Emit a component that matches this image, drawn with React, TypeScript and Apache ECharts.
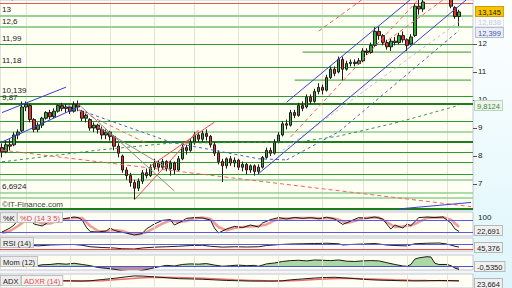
import React, { useEffect, useRef } from 'react';
import * as echarts from 'echarts';

// ---------- data ----------
const SLOTS = 118;
const categories = Array.from({ length: SLOTS }, (_, i) => `${i}`);

// [open, close, low, high]
const ohlc = [
  [8.30, 8.15, 7.95, 8.45], [8.15, 8.40, 8.10, 8.55], [8.40, 8.35, 8.20, 8.60], [8.40, 8.75, 8.35, 8.85],
  [8.75, 8.85, 8.60, 8.95], [8.90, 9.75, 8.85, 9.95], [9.75, 9.85, 9.60, 9.95], [9.80, 9.30, 9.20, 9.85],
  [9.30, 8.95, 8.85, 9.35], [8.95, 9.10, 8.85, 9.20], [9.10, 9.35, 9.00, 9.40], [9.35, 9.55, 9.30, 9.60],
  [9.55, 9.40, 9.30, 9.65], [9.40, 9.60, 9.35, 9.70], [9.60, 9.80, 9.55, 9.85], [9.80, 9.70, 9.60, 9.90],
  [9.70, 9.75, 9.55, 9.85], [9.75, 9.60, 9.50, 9.80], [9.60, 9.85, 9.55, 9.95], [9.85, 9.75, 9.60, 9.98],
  [9.60, 9.35, 9.25, 9.65], [9.35, 9.45, 9.20, 9.50], [9.30, 9.00, 8.90, 9.35], [9.00, 9.10, 8.85, 9.20],
  [9.10, 8.95, 8.80, 9.15], [8.95, 8.75, 8.60, 9.05], [8.75, 8.85, 8.60, 8.95], [8.85, 8.70, 8.55, 8.90],
  [8.70, 8.35, 8.20, 8.75], [8.35, 8.10, 7.95, 8.45], [8.00, 7.50, 7.40, 8.05], [7.50, 7.30, 7.15, 7.60],
  [7.30, 7.05, 6.90, 7.40], [7.05, 6.85, 6.46, 7.15], [6.85, 7.10, 6.75, 7.20], [7.10, 7.40, 7.00, 7.50],
  [7.40, 7.30, 7.20, 7.55], [7.30, 7.60, 7.25, 7.70], [7.60, 7.75, 7.50, 7.90], [7.75, 7.60, 7.45, 7.85],
  [7.60, 7.80, 7.50, 7.90], [7.80, 7.55, 7.45, 7.85], [7.55, 7.75, 7.30, 7.85], [7.75, 7.50, 7.35, 7.80],
  [7.50, 7.90, 7.45, 8.00], [7.90, 8.30, 7.85, 8.40], [8.30, 8.20, 8.05, 8.40], [8.20, 8.50, 8.15, 8.60],
  [8.50, 8.75, 8.40, 8.85], [8.75, 8.60, 8.50, 8.85], [8.60, 8.80, 8.50, 8.90], [8.80, 8.70, 8.55, 8.95],
  [8.70, 8.40, 8.30, 8.75], [8.40, 8.10, 8.00, 8.50], [8.10, 7.80, 7.70, 8.20], [7.80, 7.65, 7.07, 7.90],
  [7.65, 7.90, 7.55, 7.95], [7.90, 7.75, 7.65, 8.00], [7.75, 7.85, 7.60, 7.95], [7.85, 7.60, 7.50, 7.90],
  [7.60, 7.70, 7.45, 7.80], [7.70, 7.50, 7.35, 7.75], [7.50, 7.65, 7.40, 7.70], [7.65, 7.45, 7.30, 7.70],
  [7.45, 7.60, 7.35, 7.70], [7.60, 7.95, 7.55, 8.00], [7.95, 8.20, 7.90, 8.30], [8.20, 8.10, 8.00, 8.30],
  [8.10, 8.50, 8.05, 8.60], [8.50, 8.75, 8.45, 8.85], [8.75, 9.15, 8.70, 9.25], [9.15, 9.10, 8.95, 9.30],
  [9.10, 9.55, 9.05, 9.65], [9.55, 9.45, 9.35, 9.65], [9.45, 9.80, 9.40, 9.90], [9.80, 9.70, 9.60, 9.95],
  [9.75, 10.10, 9.70, 10.20], [10.10, 9.95, 9.85, 10.20], [9.95, 10.30, 9.90, 10.40], [10.30, 10.45, 10.20, 10.60],
  [10.45, 10.35, 10.20, 10.55], [10.35, 10.80, 10.30, 10.90], [10.80, 11.10, 10.75, 11.20], [11.10, 10.95, 10.85, 11.20],
  [11.00, 11.45, 10.95, 11.55], [11.45, 11.10, 10.70, 11.55], [11.10, 11.30, 11.05, 11.40], [11.30, 11.35, 11.20, 11.45],
  [11.35, 11.30, 11.20, 11.45], [11.30, 11.40, 11.25, 11.50], [11.40, 11.75, 11.35, 11.85], [11.75, 11.70, 11.60, 11.85],
  [11.70, 11.95, 11.65, 12.05], [11.95, 12.45, 11.90, 12.60], [12.45, 12.30, 12.15, 12.62], [12.30, 12.05, 11.95, 12.35],
  [12.05, 11.90, 11.80, 12.15], [11.90, 12.10, 11.75, 12.20], [12.10, 12.05, 11.95, 12.25], [12.05, 12.30, 12.00, 12.40],
  [12.30, 12.15, 12.05, 12.45], [12.15, 11.95, 11.75, 12.20], [12.00, 12.25, 11.95, 12.35], [12.30, 13.35, 12.25, 13.45],
  [13.35, 13.25, 13.05, 13.60], [13.25, 13.50, 13.15, 13.62], [13.60, 13.85, 13.60, 13.95], [13.85, 13.95, 13.75, 14.05],
  [13.95, 13.85, 13.75, 14.05], [13.85, 14.00, 13.80, 14.10], [14.00, 13.90, 13.80, 14.05], [13.90, 13.75, 13.65, 13.95],
  [13.70, 13.35, 13.28, 13.75], [13.30, 12.98, 12.90, 13.35], [12.98, 13.145, 12.64, 13.22],
];

const yTicks = [7, 8, 9, 10, 11, 12];
const monthIdx = [6, 17, 27, 38, 48, 59, 69, 80, 90, 101, 111];

const labeledLevels = [13.44, 13, 12.6, 11.99, 11.18, 10.139, 9.87, 6.6924];
const redLevels = [13.44];
const paleLevels = [13, 12.6];
const greenLevels = [11.99, 11.18, 10.139, 9.25, 8.13, 7.78, 7.36];
const darkLevels = [9.87, 8.5, 6.13];
const lightLevels = [8.87, 7.14, 6.6924, 6.52];
const partialLevels = [[75, 11.71], [73, 10.71]];

const blueSolidLines = [
  [[0, 9.55], [16, 10.46]],
  [[0, 8.5], [19, 9.75]],
  [[64, 7.37], [116, 13.6]],
  [[71, 9.92], [102, 13.6]],
  [[99, 6.11], [117, 6.34]],
];
const graySolidLines = [
  [[19, 9.86], [43, 6.75]],
  [[24, 9.04], [42, 7.5]],
];
const redSolidLines = [
  [[33, 6.43], [49, 8.93]],
  [[37, 7.64], [53, 9.21]],
];
const redDashedLines = [
  [[0, 8.21], [117, 6.19]],
  [[72, 8.68], [104, 13.6]],
  [[79, 12.46], [90, 13.6]],
  [[95, 12.0], [110, 13.57]],
  [[19, 9.64], [36, 8.46]],
];
const blueDashedLines = [
  [[71, 7.86], [84, 8.86], [114, 12.48]],
  [[15, 9.86], [42, 8.5], [64, 7.9], [71, 7.86]],
];
const lavenderDashedLines = [[[70, 8.2], [115, 12.9]]];
const greenDashedLines = [
  [[0, 7.79], [24, 8.21], [42, 8.46], [74, 8.5], [84, 8.71], [99, 9.21], [114, 9.81]],
];

const stochK = [
  [0, 20], [2, 40], [3, 55], [4, 80], [5, 95], [6, 85], [7, 80], [8, 60], [10, 50], [11, 62], [12, 78],
  [14, 82], [16, 88], [18, 95], [19, 92], [20, 80], [21, 45], [22, 22], [24, 20], [26, 25], [27, 40],
  [28, 28], [30, 18], [31, 15], [33, 5], [35, 12], [36, 35], [38, 60], [40, 78], [42, 82], [43, 55],
  [45, 75], [46, 88], [48, 92], [50, 90], [52, 80], [53, 40], [54, 15], [56, 35], [58, 48], [60, 42],
  [62, 55], [64, 45], [65, 65], [67, 82], [69, 92], [71, 85], [73, 93], [75, 88], [77, 92], [79, 86],
  [81, 94], [83, 85], [85, 58], [87, 75], [89, 92], [91, 88], [93, 95], [95, 85], [97, 35], [98, 55],
  [100, 40], [101, 60], [102, 52], [104, 92], [106, 95], [108, 92], [110, 95], [112, 65], [113, 35], [114, 22.691],
];
const stochD = [
  [0, 15], [2, 25], [4, 50], [6, 80], [8, 80], [10, 62], [12, 62], [14, 78], [16, 85], [18, 90], [20, 90],
  [22, 50], [24, 25], [26, 22], [28, 30], [30, 25], [32, 12], [34, 8], [36, 18], [38, 40], [40, 62],
  [42, 78], [44, 70], [46, 75], [48, 88], [50, 92], [52, 85], [54, 45], [56, 28], [58, 40], [60, 45],
  [62, 48], [64, 50], [66, 58], [68, 78], [70, 88], [72, 88], [74, 90], [76, 90], [78, 90], [80, 88],
  [82, 90], [84, 82], [86, 65], [88, 75], [90, 88], [92, 92], [94, 92], [96, 70], [98, 45], [100, 48],
  [102, 52], [104, 70], [106, 90], [108, 93], [110, 94], [112, 82], [114, 45],
];
const rsi = [
  [0, 45], [3, 55], [5, 68], [7, 60], [9, 55], [12, 62], [15, 65], [18, 66], [20, 60], [22, 48], [25, 42],
  [28, 38], [30, 32], [33, 30], [35, 38], [38, 45], [41, 48], [44, 52], [47, 58], [50, 60], [52, 52],
  [55, 45], [58, 48], [61, 46], [64, 48], [66, 58], [69, 65], [72, 70], [75, 72], [78, 74], [81, 76],
  [84, 72], [85, 62], [87, 66], [90, 70], [93, 74], [96, 62], [98, 58], [101, 55], [103, 72], [106, 76],
  [109, 78], [111, 70], [113, 52], [114, 45.376],
];
const mom = [
  [8, 0.0], [10, 0.25], [12, 0.3], [14, 0.45], [16, 0.35], [18, 0.5], [20, 0.3], [22, 0.1], [24, -0.2],
  [26, -0.35], [28, -0.5], [30, -0.75], [32, -0.9], [33, -1.0], [35, -0.7], [37, -0.4], [39, -0.1],
  [41, 0.15], [43, 0.05], [45, 0.3], [47, 0.4], [49, 0.35], [51, 0.45], [53, 0.2], [55, 0.0], [57, 0.1],
  [59, 0.2], [61, 0.1], [63, 0.15], [64, 0.0], [66, 0.4], [68, 0.55], [70, 0.8], [72, 0.95], [74, 1.0],
  [76, 0.9], [78, 1.05], [80, 1.0], [82, 0.95], [84, 1.05], [86, 0.85], [88, 0.8], [90, 0.9], [92, 0.95],
  [94, 0.9], [96, 0.6], [98, 0.3], [100, 0.05], [101, 0.0], [102, 0.3], [103, 1.2], [104, 1.4], [106, 1.6],
  [107, 1.55], [108, 0.5], [109, 0.3], [111, 0.3], [112, 0.1], [113, -0.3], [114, -0.535],
];
const adx = [
  [0, 26], [5, 25], [10, 24], [15, 24], [20, 23], [22, 24], [25, 28], [28, 32], [31, 37], [33, 40],
  [35, 39.5], [38, 37], [41, 34], [44, 31], [47, 30], [50, 29], [53, 27], [56, 25], [59, 24], [62, 23],
  [65, 23], [68, 23], [70, 24], [72, 27], [75, 30], [78, 33], [81, 35], [83, 35.5], [85, 34], [88, 31],
  [91, 28], [94, 26], [97, 25], [100, 24], [103, 23.5], [106, 24], [109, 25], [112, 24.5], [114, 23.664],
];
const adxr = [
  [0, 24], [10, 24], [20, 23], [25, 24], [28, 27], [31, 30], [34, 33], [37, 35], [40, 36], [43, 35],
  [46, 34], [50, 32], [54, 30], [58, 27], [62, 25], [66, 24], [70, 23.5], [74, 25], [78, 28], [82, 31],
  [86, 32.5], [90, 31], [94, 29], [98, 27], [102, 25.5], [106, 24.5], [110, 24], [114, 24],
];

// ---------- styling helpers ----------
const FONT = '"Liberation Sans", Arial, sans-serif';
const fmt = (v: number) => String(v).replace('.', ',');

const vGrid = () =>
  monthIdx.map((i) => ({ xAxis: i, lineStyle: { color: '#e4e4d4', width: 1, type: 'solid' }, label: { show: false } }));

function lv(values: number[], color: string, width: number) {
  return values.map((v) => ({
    yAxis: v,
    lineStyle: { color, width, type: 'solid' },
    label: labeledLevels.includes(v)
      ? { show: true, position: 'insideStartTop', formatter: fmt(v), color: '#222', fontSize: 8, fontFamily: FONT, distance: 2 }
      : { show: false },
  }));
}

function lines(groups: number[][][], color: string, width: number, type: any, gi = 0, z = 4) {
  return groups.map((pts) => ({
    type: 'line', xAxisIndex: gi, yAxisIndex: gi, data: pts, symbol: 'none', silent: true, z, clip: true,
    lineStyle: { color, width, type },
  }));
}

function indLine(data: number[][], gi: number, color: string, width: number, z = 3) {
  return { type: 'line', xAxisIndex: gi, yAxisIndex: gi, data, symbol: 'none', silent: true, z, clip: true, lineStyle: { color, width } };
}

function box(text: string, x: number, y: number, opts: any = {}) {
  return {
    type: 'text', x, y, z: 50, silent: true,
    style: {
      text, x: 0, y: 0, align: 'left', verticalAlign: 'top',
      font: `${opts.weight || 'normal'} ${opts.size || 7.5}px ${FONT}`,
      fill: opts.color || '#222',
      backgroundColor: opts.bg, borderColor: opts.border, borderWidth: opts.border ? 1 : 0,
      padding: opts.pad === undefined ? [1, 2, 0, 2] : opts.pad,
    },
  };
}

const gridBoxes = [
  { top: 0, height: 210 }, { top: 212, height: 24 }, { top: 238, height: 13 }, { top: 255, height: 15 }, { top: 274, height: 26 },
];
const grids = gridBoxes.map((g) => ({
  left: 0, right: 39, ...g, show: true, backgroundColor: '#fffff3', borderColor: '#c4c8d4', borderWidth: 1,
}));

const yRanges = [[6.071, 13.571], [0, 120], [14, 118], [-0.62, 1.88], [0, 46.4]];

// momentum fill: green above zero, mauve below (hard stop at the zero line)
const momBox = gridBoxes[3];
const momZeroOffset = yRanges[3][1] / (yRanges[3][1] - yRanges[3][0]);
const momFill = new echarts.graphic.LinearGradient(
  0, momBox.top, 0, momBox.top + momBox.height,
  [
    { offset: 0, color: '#acd9a2' },
    { offset: momZeroOffset, color: '#acd9a2' },
    { offset: momZeroOffset, color: '#b89090' },
    { offset: 1, color: '#b89090' },
  ],
  true
);

const ml = (data: any[], z?: number) => ({ silent: true, symbol: ['none', 'none'], label: { show: false }, z, data });

const option: any = {
  animation: false,
  grid: grids,
  xAxis: grids.map((_, gi) => ({ type: 'category', gridIndex: gi, data: categories, boundaryGap: true, show: false })),
  yAxis: yRanges.map(([min, max], gi) =>
    gi === 0
      ? {
          type: 'value', gridIndex: 0, position: 'right', min, max,
          splitLine: { show: false }, axisLine: { show: false },
          axisTick: { show: true, customValues: yTicks, length: 4, lineStyle: { color: '#555' } },
          axisLabel: { customValues: yTicks, fontSize: 8, color: '#222', margin: 5, fontFamily: FONT },
        }
      : { type: 'value', gridIndex: gi, min, max, show: false, splitLine: { show: false } }
  ),
  series: [
    {
      type: 'candlestick', xAxisIndex: 0, yAxisIndex: 0, data: ohlc, barWidth: 3, z: 3, silent: true, clip: true,
      itemStyle: { color: '#35a535', color0: '#d9372b', borderColor: '#1c1c1c', borderColor0: '#1c1c1c', borderWidth: 1 },
      markLine: ml([
        ...vGrid(),
        ...lv(lightLevels, '#8fd08f', 1.5),
        ...lv(greenLevels, '#2f9b2f', 1),
        ...lv(paleLevels, '#96d296', 2),
        ...lv(darkLevels, '#1d7d1d', 2),
        ...lv(redLevels, '#e45656', 1),
      ], 1),
    },
    {
      type: 'line', xAxisIndex: 3, yAxisIndex: 3, data: mom, symbol: 'none', silent: true, z: 2,
      lineStyle: { width: 0 }, areaStyle: { opacity: 1, color: momFill },
      markLine: ml([...vGrid(), { yAxis: 0, lineStyle: { color: '#4a52e0', width: 1, type: 'solid' } }]),
    },
    indLine(mom, 3, '#1a1a1a', 1),
    ...partialLevels.map(([i, v]) => ({
      type: 'line', xAxisIndex: 0, yAxisIndex: 0, data: [[i, v], [SLOTS - 1, v]], symbol: 'none', silent: true, z: 1,
      lineStyle: { color: '#2f9b2f', width: 1 },
    })),
    ...lines(greenDashedLines, '#3f8e5c', 1, [3, 3]),
    ...lines(lavenderDashedLines, '#b8b8ec', 1, [3, 3]),
    ...lines(blueDashedLines, '#4a5fd0', 1, [3, 3]),
    ...lines(redDashedLines, '#ef6464', 1, [4, 3]),
    ...lines(graySolidLines, '#8c8c8c', 1, 'solid'),
    ...lines(redSolidLines, '#e84a4a', 1, 'solid'),
    ...lines(blueSolidLines, '#3a3ed6', 1, 'solid'),
    {
      ...indLine(stochD, 1, 'rgba(238,120,120,0.75)', 2.5, 2),
      markLine: ml([
        ...vGrid(),
        { yAxis: 80, lineStyle: { color: '#5a5ae8', width: 1, type: 'solid' } },
        { yAxis: 20, lineStyle: { color: '#5a5ae8', width: 1, type: 'solid' } },
      ]),
    },
    indLine(stochK, 1, '#1a1a1a', 1),
    {
      ...indLine(rsi, 2, '#1a1a1a', 1),
      markLine: ml([
        ...vGrid(),
        { yAxis: 70, lineStyle: { color: '#5a5ae8', width: 1, type: 'solid' } },
        { yAxis: 30, lineStyle: { color: '#ee4848', width: 1, type: 'solid' } },
      ]),
    },
    { ...indLine(adxr, 4, '#ee6a6a', 1.5, 2), markLine: ml([...vGrid()]) },
    indLine(adx, 4, '#1a1a1a', 1),
  ],
  graphic: [
    box('%K', 1, 213, { bg: '#ececec', border: '#c0c0c0' }),
    box('%D (14 3 5)', 18, 213, { bg: '#f4f4f4', border: '#c0c0c0', color: '#e04848' }),
    box('RSI (14)', 1, 238, { bg: '#ececec', border: '#c0c0c0' }),
    box('Mom (12)', 1, 257, { bg: '#ececec', border: '#c0c0c0' }),
    box('ADX', 1, 276, { bg: '#ececec', border: '#c0c0c0' }),
    box('ADXR (14)', 22, 276, { bg: '#f4f4f4', border: '#c0c0c0', color: '#e04848' }),
    box('©IT-Finance.com', 2, 200, { size: 8, color: '#444', pad: 0 }),
    box('12,838', 476, 17, { color: '#c4c8da', bg: '#fbfbfd', border: '#e2e4ec' }),
    box('13,145', 476, 7, { color: '#1a1a1a', bg: '#f6c400', border: '#c9a000' }),
    box('12,399', 476, 28, { color: '#3b56b2', bg: '#eceef5', border: '#b9bdd2' }),
    box('9,8124', 475, 101, { color: '#3a8a3a', bg: '#eef4ee', border: '#bcd2bc' }),
    box('100', 478, 213, { color: '#222', pad: 0, size: 8 }),
    box('22,691', 475, 226, { bg: '#f0f0f0', border: '#b8b8b8' }),
    box('45,376', 475, 243, { bg: '#f0f0f0', border: '#b8b8b8' }),
    box('-0,5350', 475, 262, { bg: '#f0f0f0', border: '#b8b8b8' }),
    box('23,664', 475, 279, { bg: '#f0f0f0', border: '#b8b8b8' }),
  ],
};

export default function App() {
  const ref = useRef<HTMLDivElement>(null);
  useEffect(() => {
    document.body.style.margin = '0';
    const chart = echarts.init(ref.current as HTMLDivElement, null, { renderer: 'svg' });
    chart.setOption(option);
    return () => chart.dispose();
  }, []);
  return (
    <div
      ref={ref}
      style={{
        position: 'absolute', left: 0, top: 0, width: 512, height: 288,
        background:
          'linear-gradient(to right, #f3f5f8 0px, #f3f5f8 473px, transparent 473px), linear-gradient(to bottom, #ffffff, #ddf6fb)',
      }}
    />
  );
}
